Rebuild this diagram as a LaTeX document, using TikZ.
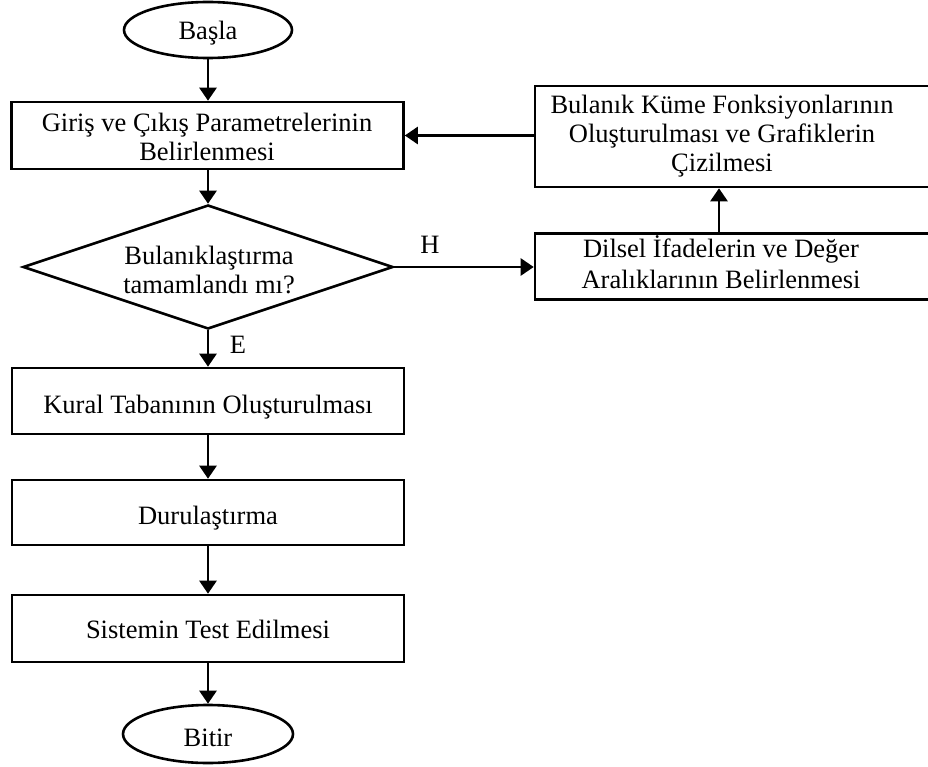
\documentclass[tikz,border=0pt]{standalone}
\usepackage{fontspec}
\setmainfont{Liberation Serif}
\usetikzlibrary{shapes.geometric,arrows.meta}
\begin{document}
\begin{tikzpicture}[x=1pt,y=-1pt,
  every node/.style={font=\fontsize{26.5}{29.5}\selectfont},
  lw/.style={line width=2.6pt},
  term/.style={lw,draw,ellipse,minimum width=168pt,minimum height=56pt,inner sep=0pt,text depth=0pt},
  procbox/.style={lw,draw,rectangle,inner sep=0pt},
  lift/.style={text height=#1,text depth=0pt},
  ln/.style={anchor=base,inner sep=0pt},
  decide/.style={lw,draw,diamond,minimum width=370pt,minimum height=124pt,aspect=2.98,inner sep=0pt},
  conn/.style={lw,-{Triangle[length=13pt,width=17pt]}}
]
\useasboundingbox (0,0) rectangle (928,767);
% boxes
\node[term,text height=20pt] (start) at (208,30) {Başla};
\node[procbox,minimum width=392pt,minimum height=67pt] (b1) at (207.5,135.5) {};
\node[decide] (d) at (208,267) {};
\node[procbox,minimum width=410pt,minimum height=66pt] (dil) at (740,266.5) {};
\node[procbox,minimum width=410pt,minimum height=101pt] (bul) at (740,136.5) {};
\node[procbox,lift=24pt,minimum width=392pt,minimum height=66pt] (k) at (208,401) {Kural Tabanının Oluşturulması};
\node[procbox,lift=24pt,minimum width=392pt,minimum height=65pt] (du) at (208,512.5) {Durulaştırma};
\node[procbox,lift=19pt,minimum width=392pt,minimum height=67pt] (s) at (208,628.5) {Sistemin Test Edilmesi};
\node[term,minimum width=170pt,minimum height=58pt,text height=25pt] (end) at (208,734) {Bitir};
% multi-line texts
\node[ln] (b1a) at (207,132) {Giriş ve Çıkış Parametrelerinin};
\node[ln] (b1b) at (207,161) {Belirlenmesi};
\node[ln] (da) at (209,264) {Bulanıklaştırma};
\node[ln] (db) at (209,293) {tamamlandı mı?};
\node[ln] (bula) at (722,114) {Bulanık Küme Fonksiyonlarının};
\node[ln] (bulb) at (722,143) {Oluşturulması ve Grafiklerin};
\node[ln] (bulc) at (722,171.5) {Çizilmesi};
\node[ln] (dila) at (721,258) {Dilsel İfadelerin ve Değer};
\node[ln] (dilb) at (721,288) {Aralıklarının Belirlenmesi};
\node[ln] (hl) at (430,253) {H};
\node[ln] (el) at (238,353) {E};
% connectors
\draw[conn] (start) -- (b1.north -| start);
\draw[conn] (b1.south -| d) -- (d.north);
\draw[conn] (d.east) -- (d.east -| dil.west);
\draw[conn] (dil.north -| 719,0) -- (bul.south -| 719,0);
\draw[conn] (bul.west |- b1.east) -- (b1.east);
\draw[conn] (d.south) -- (k.north -| d.south);
\draw[conn] (k.south) -- (du.north);
\draw[conn] (du.south) -- (s.north);
\draw[conn] (s.south) -- (end.north);
\end{tikzpicture}
\end{document}
